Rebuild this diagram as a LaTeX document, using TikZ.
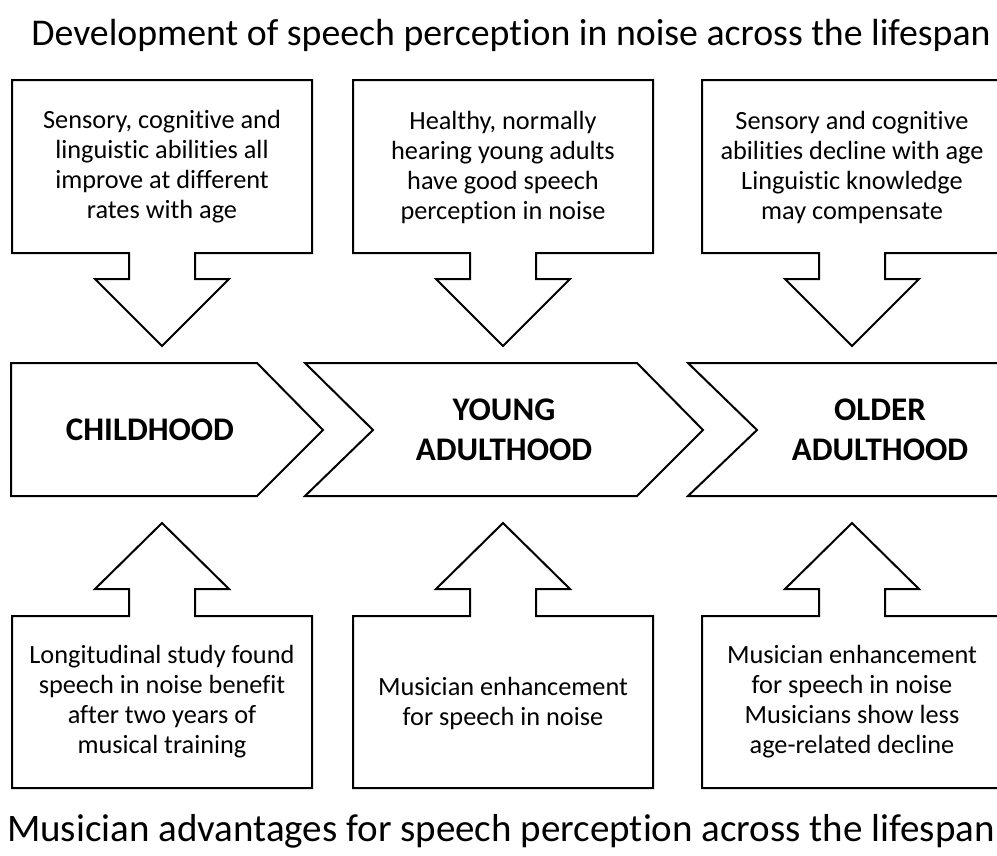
\documentclass[tikz,border=0pt]{standalone}
\usepackage{fontspec}
\setmainfont{Carlito}[RawFeature={-liga}]
\tikzset{
	outline/.style={
		draw=black, line width=2pt,
		fill=white,
		line join=miter},
	infotext/.style={
		align=center,
		inner sep=0pt,
		font=\fontsize{26.3}{30}\selectfont},
	stagetext/.style={
		align=center,
		inner sep=0pt,
		font=\fontsize{33}{40}\selectfont\bfseries},
	headline/.style={
		inner sep=0pt,
		font=\fontsize{37.8}{44}\selectfont},
}

\begin{document}
\begin{tikzpicture}[x=1pt, y=-1pt]
	\useasboundingbox (0,0) rectangle (997,855);
	\clip (0,0) rectangle (997,855);
	% callouts pointing down and up
	\foreach \cx in {162,503,852} {
		\draw[outline] (\cx-150,80) -- (\cx+150,80) -- (\cx+150,253) -- (\cx+33,253) -- (\cx+33,279) -- (\cx+67,279)
			-- (\cx,346) -- (\cx-67,279) -- (\cx-33,279) -- (\cx-33,253) -- (\cx-150,253) -- cycle;
		\draw[outline] (\cx,523) -- (\cx+67,589) -- (\cx+33,589) -- (\cx+33,616) -- (\cx+150,616) -- (\cx+150,788)
			-- (\cx-150,788) -- (\cx-150,616) -- (\cx-33,616) -- (\cx-33,589) -- (\cx-67,589) -- cycle;
	}
	% chevrons
	\draw[outline] (11,363) -- (257,363) -- (323,430) -- (257,496) -- (11,496) -- cycle;
	\draw[outline] (305,363) -- (637,363) -- (703,430) -- (637,496) -- (305,496) -- (373,430) -- cycle;
	\draw[outline] (688,363) -- (1010,363) -- (1077,430) -- (1010,496) -- (688,496) -- (757,430) -- cycle;

	\node[headline] (toptitle) at (511,35) {Development of speech perception in noise across the lifespan};
	\node[headline, font=\fontsize{39}{44}\selectfont] (bottitle) at (501,831) {Musician advantages for speech perception across the lifespan};

	\node[stagetext] (child) at (150,430) {CHILDHOOD};
	\node[stagetext] (young) at (504,430) {YOUNG\\ADULTHOOD};
	\node[stagetext] (older) at (880,430) {OLDER\\ADULTHOOD};

	\node[infotext] (dev1) at (162,167) {Sensory, cognitive and\\linguistic abilities all\\improve at different\\rates with age};
	\node[infotext] (dev2) at (503,167) {Healthy, normally\\hearing young adults\\have good speech\\perception in noise};
	\node[infotext] (dev3) at (852,167) {Sensory and cognitive\\abilities decline with age\\Linguistic knowledge\\may compensate};

	\node[infotext] (mus1) at (162,702) {Longitudinal study found\\speech in noise benefit\\after two years of\\musical training};
	\node[infotext] (mus2) at (503,703) {Musician enhancement\\for speech in noise};
	\node[infotext] (mus3) at (852,702) {Musician enhancement\\for speech in noise\\Musicians show less\\age-related decline};
\end{tikzpicture}
\end{document}
